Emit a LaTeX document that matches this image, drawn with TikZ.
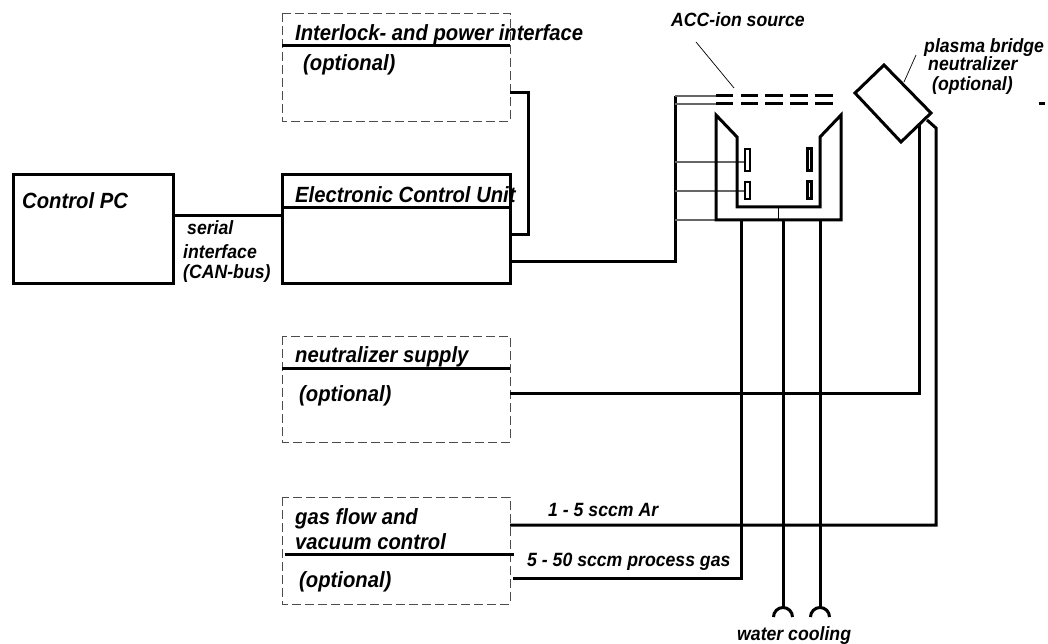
\documentclass[tikz,border=0pt]{standalone}
\usepackage{fontspec}
\setmainfont{Liberation Sans}[FakeStretch=0.92]
\usetikzlibrary{positioning}
\tikzset{
  wire/.style={line width=3pt},
  thinwire/.style={line width=1.1pt, draw=black!60},
  optbox/.style={draw=black!70, line width=0.8pt, dash pattern=on 9pt off 4pt},
  lbl/.style={font=\bfseries\itshape\fontsize{22}{24}\selectfont, anchor=base west, inner sep=0pt},
  small/.style={font=\bfseries\itshape\fontsize{19.2}{21}\selectfont, anchor=base west, inner sep=0pt},
}
\begin{document}
\begin{tikzpicture}[x=1pt,y=-1pt]
\useasboundingbox (0,0) rectangle (1048,644);
% control PC and ECU
\draw[wire] (13,175) rectangle (173,283);
\draw[wire] (282,175) rectangle (510,283);
\draw[wire] (282,208) -- (510,208);
\node[lbl] (pc) at (22,208) {Control PC};
\node[lbl] (ecu) at (295,203) {Electronic Control Unit};
\draw[wire] (173,216) -- (282,216);
\node[small] (can1) at (187,234) {serial};
\node[small] (can2) at (183,258) {interface};
\node[small] (can3) at (183,278) {(CAN-bus)};
% optional supplies
\draw[optbox] (282,13) rectangle (510,121);
\draw[optbox] (282,336) rectangle (510,442);
\draw[optbox] (282,497) rectangle (510,604);
\draw[wire] (282,46) -- (510,46);
\draw[wire] (282,368) -- (510,368);
\draw[wire] (285,554) -- (514,554);
\node[lbl] (intl) at (295,41) {Interlock- and power interface};
\node[lbl] (intlo) at (303,71) {(optional)};
\node[lbl] (ns) at (295,362) {neutralizer supply};
\node[lbl] (nso) at (299,401) {(optional)};
\node[lbl] (gas1) at (295,524) {gas flow and};
\node[lbl] (gas2) at (295,549) {vacuum control};
\node[lbl] (gaso) at (299,587) {(optional)};
% wires
\draw[wire] (510,93) -| (528,234) -- (510,234);
\draw[wire] (510,261) -| (675,96);
\draw[wire] (510,393) -| (919,123);
\draw[wire] (510,525) -| (936,128) -- (927,120);
\draw[wire] (513,578) -| (741,220);
\draw[wire] (783,220) -- (783,607);
\draw[wire] (820,220) -- (820,607);
\draw[wire] (773.5,617) arc (180:360:9.5);
\draw[wire] (810.5,617) arc (180:360:9.5);
\node[small] (ar) at (548,516) {1 - 5 sccm Ar};
\node[small] (pg) at (527,566) {5 - 50 sccm process gas};
\node[small] (wc) at (737,640) {water cooling};
% ion source
\draw[thinwire] (675,96) -- (716,96);
\draw[thinwire] (675,104) -- (716,104);
\draw[thinwire] (675,162) -- (745,162);
\draw[thinwire] (675,191) -- (745,191);
\draw[thinwire] (675,220) -- (716,220);
\foreach \yy in {96,104} {
  \foreach \xa/\xb in {716/733,741/758,765/783,790/808,815/833}
    \draw[wire] (\xa,\yy) -- (\xb,\yy);
}
\draw[wire] (716,115) -- (737,137) -- (737,207) -- (820,207) -- (820,137) -- (841,115) -- (841,220) -- (716,220) -- cycle;
\draw[line width=0.6pt] (778.5,207) -- (778.5,220);
\foreach \yy/\hh in {149/22,182/17} {
  \draw[line width=2pt] (745,\yy) rectangle ++(5,\hh);
  \draw[line width=3pt] (807.5,\yy) rectangle ++(4,\hh);
}
\draw[line width=0.7pt] (696,42) -- (734,88);
\node[small] (acc) at (671,27) {ACC-ion source};
% neutralizer
\draw[wire] (855,93) -- (884,65) -- (931,113) -- (901,142) -- cycle;
\draw[line width=0.7pt] (904,82) -- (916,55);
\node[small] (pb1) at (924,53) {plasma bridge};
\node[small] (pb2) at (928,71) {neutralizer};
\node[small] (pb3) at (932,91) {(optional)};
\draw[wire] (1039,104) -- (1045,104);
\end{tikzpicture}
\end{document}
